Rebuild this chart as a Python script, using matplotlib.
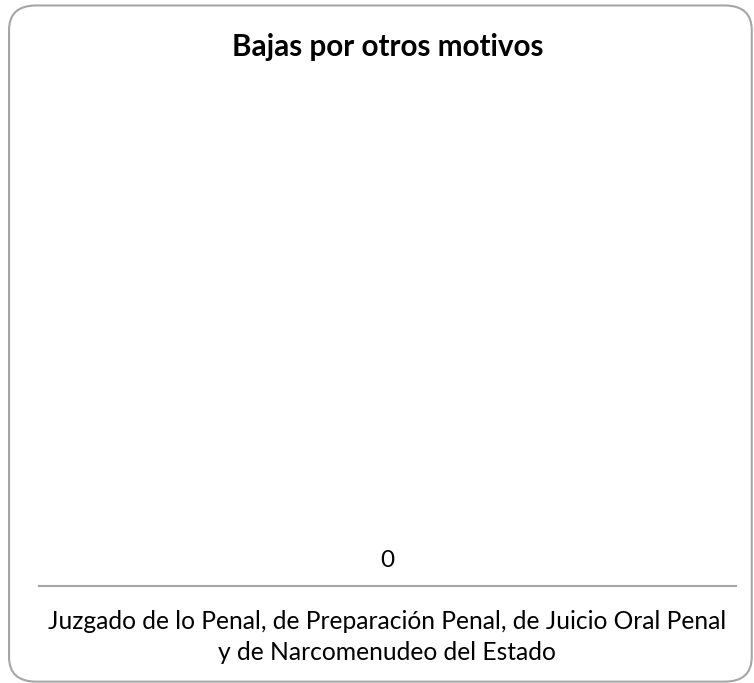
import matplotlib.pyplot as plt
from matplotlib.patches import FancyBboxPatch

categories = ['Juzgado de lo Penal, de Preparación Penal, de Juicio Oral Penal\ny de Narcomenudeo del Estado']
values = [0]
title = 'Bajas por otros motivos'

plt.rcParams['font.family'] = ['Lato', 'DejaVu Sans']

fig = plt.figure(figsize=(7.54, 6.83), dpi=100)

# rounded outer frame
frame = FancyBboxPatch((0.012, 0.002), 0.985, 0.990,
                       boxstyle='round,pad=0,rounding_size=0.036',
                       transform=fig.transFigure, facecolor='white',
                       edgecolor='#a6a6a6', linewidth=1.5, zorder=-5)
fig.patches.append(frame)

ax = fig.add_axes([0.0517, 0.142, 0.924, 0.74])
ax.set_zorder(2)
bars = ax.bar(categories, values, width=0.6, color='#4472c4')
ax.set_ylim(0, 1)
ax.set_xlim(-0.5, 0.5)
ax.bar_label(bars, labels=[str(v) for v in values], padding=11, fontsize=17.5, color='#000000')

for s in ['top', 'right', 'left']:
    ax.spines[s].set_visible(False)
ax.spines['bottom'].set_color('#a6a6a6')
ax.spines['bottom'].set_linewidth(1.5)
ax.set_yticks([])
ax.tick_params(axis='x', length=0, pad=17, labelsize=17.7)
for lbl in ax.get_xticklabels():
    lbl.set_linespacing(1.45)
ax.patch.set_alpha(0)

fig.text(0.514, 0.931, title, ha='center', va='center', fontsize=21.3, fontweight='bold')

plt.savefig('out.png', dpi=100)
